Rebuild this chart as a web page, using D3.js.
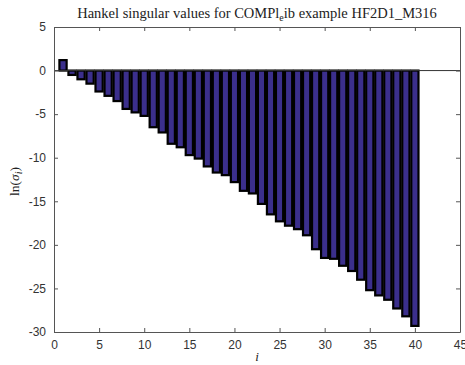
<!DOCTYPE html>
<html>
<head>
<meta charset="utf-8">
<script src="https://cdn.jsdelivr.net/npm/d3@7"></script>
<style>
  body { margin: 0; background: #fff; }
  .axis text { font-family: "Liberation Sans", Arial, sans-serif; font-size: 12px; fill: #333; }
  .axis path, .axis line { stroke: #555; }
</style>
</head>
<body>
<div id="chart"></div>
<script>
// index of the singular value
var idx = d3.range(1, 41);
// ln(sigma_i)
var lnSigma = [1.2, -0.5, -1.0, -1.5, -2.4, -2.9, -3.5, -4.4, -4.8, -5.2,
               -6.5, -7.1, -8.4, -8.8, -9.7, -10.1, -11.0, -11.7, -12.0, -12.8,
               -13.8, -14.1, -15.3, -16.5, -17.3, -17.8, -18.2, -18.9, -20.5, -21.5,
               -21.6, -22.4, -23.0, -24.0, -25.2, -25.8, -26.3, -27.3, -28.2, -29.3];
var xTicks = [0, 5, 10, 15, 20, 25, 30, 35, 40, 45];
var yTicks = [5, 0, -5, -10, -15, -20, -25, -30];

var margin = {top: 27, right: 5, bottom: 33, left: 54},
    width  = 465 - margin.left - margin.right,
    height = 365 - margin.top  - margin.bottom;

var x = d3.scaleLinear().domain([0, 45]).range([0, width]);
var y = d3.scaleLinear().domain([-30, 5]).range([height, 0]);

// matlab style labels use a plain hyphen
var fmt = function (d) { return String(d); };

var svg = d3.select("#chart").append("svg")
    .attr("width", 465)
    .attr("height", 365)
  .append("g")
    .attr("transform", "translate(" + margin.left + "," + margin.top + ")");

var barW = 0.8;

// bars
svg.selectAll("rect.bar")
    .data(idx)
  .enter().append("rect")
    .attr("class", "bar")
    .attr("x", function (d) { return x(d - barW / 2); })
    .attr("width", function () { return x(barW) - x(0); })
    .attr("y", function (d, i) { return y(Math.max(0, lnSigma[i])); })
    .attr("height", function (d, i) { return Math.abs(y(lnSigma[i]) - y(0)); })
    .style("fill", "#3b2f8c")
    .style("stroke", "#000")
    .style("stroke-width", 2.2);

// baseline
svg.append("line")
    .attr("x1", x(0)).attr("x2", x(45))
    .attr("y1", y(0)).attr("y2", y(0))
    .style("stroke", "#333")
    .style("stroke-width", 1);

// axes (box with inward ticks)
svg.append("g")
    .attr("class", "axis")
    .attr("transform", "translate(0," + height + ")")
    .call(d3.axisBottom(x).tickValues(xTicks).tickFormat(fmt).tickSizeInner(-4).tickSizeOuter(0).tickPadding(8));

svg.append("g")
    .attr("class", "axis")
    .call(d3.axisLeft(y).tickValues(yTicks).tickFormat(fmt).tickSizeInner(-4).tickSizeOuter(0).tickPadding(8));

svg.append("g")
    .attr("class", "axis")
    .call(d3.axisTop(x).tickValues(xTicks).tickSizeInner(-4).tickSizeOuter(0).tickFormat(""));

svg.append("g")
    .attr("class", "axis")
    .attr("transform", "translate(" + width + ",0)")
    .call(d3.axisRight(y).tickValues(yTicks).tickSizeInner(-4).tickSizeOuter(0).tickFormat(""));

// title
var title = svg.append("text")
    .attr("x", width / 2)
    .attr("y", -9)
    .attr("text-anchor", "middle")
    .style("font-family", "'Liberation Serif', 'DejaVu Serif', serif")
    .style("font-size", "14.5px")
    .style("fill", "#222");
title.append("tspan").text("Hankel singular values for COMPl");
title.append("tspan").attr("dy", 3).style("font-size", "10px").text("e");
title.append("tspan").attr("dy", -3).text("ib example HF2D1_M316");

// x label
svg.append("text")
    .attr("x", width / 2)
    .attr("y", height + 29)
    .attr("text-anchor", "middle")
    .style("font-family", "'Liberation Serif', serif")
    .style("font-style", "italic")
    .style("font-size", "13px")
    .style("fill", "#222")
    .text("i");

// y label
var ylab = svg.append("text")
    .attr("transform", "translate(" + (-35) + "," + (height / 2 + 2) + ") rotate(-90)")
    .attr("text-anchor", "middle")
    .style("font-family", "'Liberation Serif', serif")
    .style("font-size", "13.5px")
    .style("fill", "#222");
ylab.append("tspan").text("ln(");
ylab.append("tspan").style("font-style", "italic").text("σ");
ylab.append("tspan").attr("dy", 3).style("font-style", "italic").style("font-size", "10px").text("i");
ylab.append("tspan").attr("dy", -3).text(")");
</script>
</body>
</html>
